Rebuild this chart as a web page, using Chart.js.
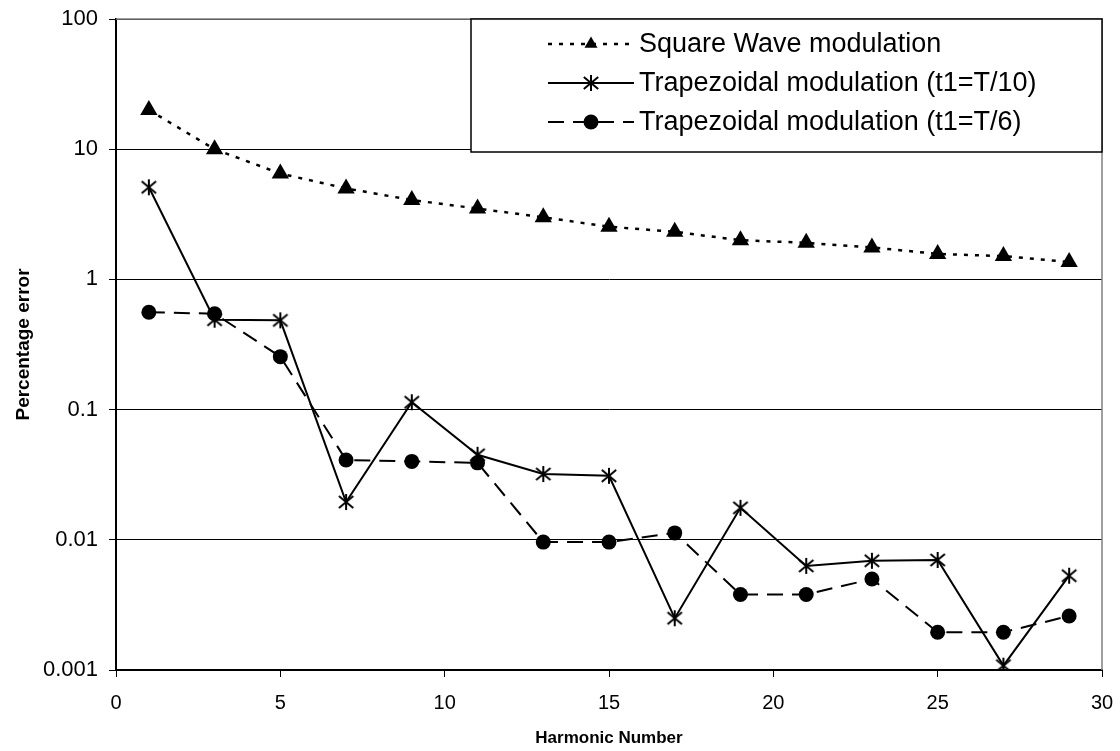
<!DOCTYPE html>
<html>
<head>
<meta charset="utf-8">
<script src="https://cdn.jsdelivr.net/npm/chart.js@4/dist/chart.umd.min.js"></script>
<style>
  html, body { margin: 0; padding: 0; background: #fff; }
  #wrap { width: 1120px; height: 751px; }
</style>
</head>
<body>
<div id="wrap"><canvas id="chart" width="1120" height="751"></canvas></div>
<script>
const harmonics = [1, 3, 5, 7, 9, 11, 13, 15, 17, 19, 21, 23, 25, 27, 29];

const squareWave = [20, 10, 6.5, 5.0, 4.07, 3.5, 3.0, 2.54, 2.32, 2.0, 1.91, 1.76, 1.57, 1.51, 1.36];
const trapT10 = [5.1, 0.49, 0.485, 0.0195, 0.114, 0.045, 0.032, 0.031, 0.0025, 0.0176, 0.0063, 0.0069, 0.0070, 0.00108, 0.0053];
const trapT6 = [0.56, 0.545, 0.255, 0.041, 0.040, 0.039, 0.0096, 0.0096, 0.0113, 0.0038, 0.0038, 0.0050, 0.00195, 0.00195, 0.0026];

const seriesNames = [
  'Square Wave modulation',
  'Trapezoidal modulation (t1=T/10)',
  'Trapezoidal modulation (t1=T/6)'
];

const yTicks = [0.001, 0.01, 0.1, 1, 10, 100];
const yTickLabels = ['0.001', '0.01', '0.1', '1', '10', '100'];

const FONT = '"Liberation Sans", Arial, sans-serif';

// asterisk marker (X with a vertical bar), like the spreadsheet one
function makeStar(size) {
  const c = document.createElement('canvas');
  c.width = size; c.height = size;
  const g = c.getContext('2d');
  const m = size / 2, r = size / 2 - 1;
  g.strokeStyle = '#000';
  g.lineWidth = 2;
  g.beginPath();
  g.moveTo(m, m - r); g.lineTo(m, m + r);
  g.moveTo(m - r * 0.9, m - r * 0.75); g.lineTo(m + r * 0.9, m + r * 0.75);
  g.moveTo(m + r * 0.9, m - r * 0.75); g.lineTo(m - r * 0.9, m + r * 0.75);
  g.stroke();
  return c;
}
const starMarker = makeStar(18);

const toPoints = vals => harmonics.map((h, i) => ({ x: h, y: vals[i] }));

const datasets = [
  {
    label: seriesNames[0],
    data: toPoints(squareWave),
    borderColor: '#000',
    backgroundColor: '#000',
    borderWidth: 2.5,
    borderDash: [4, 7],
    pointStyle: 'triangle',
    pointRadius: 10,
    pointBorderWidth: 0
  },
  {
    label: seriesNames[1],
    data: toPoints(trapT10),
    borderColor: '#000',
    backgroundColor: '#000',
    borderWidth: 2,
    pointStyle: starMarker,
    pointRadius: 9
  },
  {
    label: seriesNames[2],
    data: toPoints(trapT6),
    borderColor: '#000',
    backgroundColor: '#000',
    borderWidth: 2,
    borderDash: [16, 9],
    pointStyle: 'circle',
    pointRadius: 7.5,
    pointBorderWidth: 0
  }
];

// frame (top/right) and the boxed legend inside the plot
const framePlugin = {
  id: 'frame',
  afterDatasetsDraw(chart) {
    const { ctx, chartArea: a } = chart;
    ctx.save();
    ctx.strokeStyle = '#808080';
    ctx.lineWidth = 1.5;
    ctx.beginPath();
    ctx.moveTo(a.left, a.top); ctx.lineTo(a.right, a.top); ctx.lineTo(a.right, a.bottom);
    ctx.stroke();

    // legend box
    const bx = 471, by = 19, bw = a.right - 471, bh = 133;
    ctx.fillStyle = '#fff';
    ctx.fillRect(bx, by, bw, bh);
    ctx.strokeStyle = '#000';
    ctx.lineWidth = 1.5;
    ctx.strokeRect(bx, by, bw, bh);

    const rows = [44, 83, 122];
    ctx.font = '27px ' + FONT;
    ctx.textBaseline = 'middle';
    ctx.textAlign = 'left';
    chart.data.datasets.forEach((ds, i) => {
      const y = rows[i];
      ctx.save();
      ctx.strokeStyle = '#000';
      ctx.lineWidth = ds.borderWidth;
      ctx.setLineDash(ds.borderDash || []);
      ctx.beginPath();
      ctx.moveTo(548, y); ctx.lineTo(634, y);
      ctx.stroke();
      ctx.restore();
      ctx.fillStyle = '#000';
      ctx.strokeStyle = '#000';
      Chart.helpers.drawPoint(ctx, {
        pointStyle: ds.pointStyle,
        radius: i === 1 ? 9 : 7.5,
        borderWidth: 0,
        rotation: 0
      }, 591, y);
      ctx.fillStyle = '#000';
      ctx.fillText(ds.label, 639, y + 1);
    });
    ctx.restore();
  }
};

new Chart(document.getElementById('chart'), {
  type: 'line',
  data: { datasets },
  options: {
    responsive: false,
    animation: false,
    events: [],
    layout: { padding: { top: 19, right: 18, left: 10, bottom: 0 } },
    plugins: { legend: { display: false }, tooltip: { enabled: false } },
    scales: {
      x: {
        type: 'linear',
        min: 0,
        max: 30,
        ticks: { stepSize: 5, color: '#000', font: { family: FONT, size: 20 }, padding: 14, maxRotation: 0 },
        grid: { drawOnChartArea: false, color: '#000', tickLength: 7, lineWidth: 1 },
        border: { color: '#000', width: 2 },
        title: { display: true, text: 'Harmonic Number', color: '#000', font: { family: FONT, size: 17, weight: 'bold' }, padding: { top: 0, bottom: 2 } },
        afterFit(scale) {
          scale.height = 81;
          scale.paddingLeft = 0;
          scale.paddingRight = 0;
        }
      },
      y: {
        type: 'logarithmic',
        min: 0.001,
        max: 100,
        afterBuildTicks(scale) { scale.ticks = yTicks.map(v => ({ value: v })); },
        ticks: {
          color: '#000',
          font: { family: FONT, size: 22 },
          padding: 11,
          callback: (v) => { const k = yTicks.indexOf(v); return k >= 0 ? yTickLabels[k] : ''; }
        },
        grid: { color: '#000', lineWidth: 1, tickLength: 7 },
        border: { color: '#000', width: 2 },
        title: { display: true, text: 'Percentage error', color: '#000', font: { family: FONT, size: 19, weight: 'bold' }, padding: { top: 2, bottom: 0 } },
        afterFit(scale) {
          scale.width = 106;
          scale.paddingTop = 0;
          scale.paddingBottom = 0;
        }
      }
    }
  },
  plugins: [framePlugin]
});
</script>
</body>
</html>
